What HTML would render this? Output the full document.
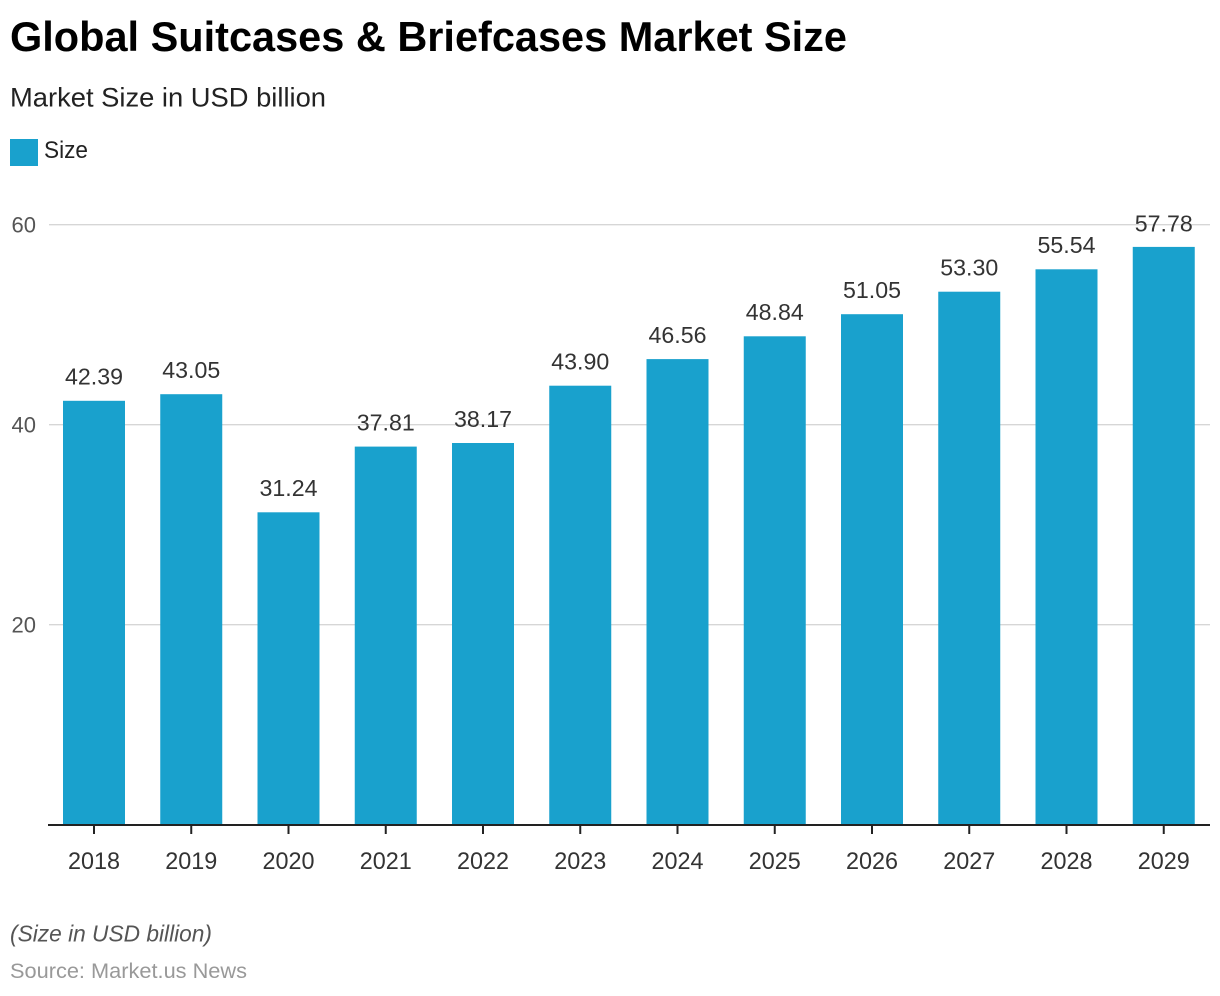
<!DOCTYPE html>
<html>
<head>
<meta charset="utf-8">
<style>
  html,body{margin:0;padding:0;background:#fff;}
  svg{display:block;}
  text{font-family:"Liberation Sans",sans-serif;}
</style>
</head>
<body>
<svg width="1220" height="996" viewBox="0 0 1220 996" xmlns="http://www.w3.org/2000/svg">
  <rect width="1220" height="996" fill="#fff"/>
  <!-- Title -->
  <text x="10" y="51" font-size="42" font-weight="bold" fill="#000" textLength="837" lengthAdjust="spacingAndGlyphs">Global Suitcases &amp; Briefcases Market Size</text>
  <text x="10" y="106.5" font-size="27" fill="#222" textLength="316" lengthAdjust="spacingAndGlyphs">Market Size in USD billion</text>
  <!-- Legend -->
  <rect x="10" y="139" width="28" height="27" fill="#19a1cd"/>
  <text x="44" y="158" font-size="24" fill="#222" textLength="44" lengthAdjust="spacingAndGlyphs">Size</text>

  <!-- Gridlines -->
  <g stroke="#d6d6d6" stroke-width="1.4">
    <line x1="49" y1="224.7" x2="1210" y2="224.7"/>
    <line x1="49" y1="424.7" x2="1210" y2="424.7"/>
    <line x1="49" y1="624.7" x2="1210" y2="624.7"/>
  </g>
  <!-- Y labels -->
  <g font-size="22" fill="#555" text-anchor="end">
    <text x="36" y="232.5">60</text>
    <text x="36" y="432.5">40</text>
    <text x="36" y="632.5">20</text>
  </g>

  <!-- Bars -->
  <g fill="#19a1cd">
    <rect x="63" y="400.8" width="62" height="424"/>
    <rect x="160.25" y="394.2" width="62" height="430.5"/>
    <rect x="257.5" y="512.3" width="62" height="312.4"/>
    <rect x="354.75" y="446.6" width="62" height="378.1"/>
    <rect x="452" y="443" width="62" height="381.7"/>
    <rect x="549.25" y="385.7" width="62" height="439"/>
    <rect x="646.5" y="359.1" width="62" height="465.6"/>
    <rect x="743.75" y="336.3" width="62" height="488.4"/>
    <rect x="841" y="314.2" width="62" height="510.5"/>
    <rect x="938.25" y="291.7" width="62" height="533"/>
    <rect x="1035.5" y="269.3" width="62" height="555.4"/>
    <rect x="1132.75" y="246.9" width="62" height="577.8"/>
  </g>

  <!-- Value labels -->
  <g font-size="23" fill="#333" text-anchor="middle">
    <text x="94" y="384.5" textLength="58" lengthAdjust="spacingAndGlyphs">42.39</text>
    <text x="191.25" y="378" textLength="58" lengthAdjust="spacingAndGlyphs">43.05</text>
    <text x="288.5" y="496" textLength="58" lengthAdjust="spacingAndGlyphs">31.24</text>
    <text x="385.75" y="430.5" textLength="58" lengthAdjust="spacingAndGlyphs">37.81</text>
    <text x="483" y="427" textLength="58" lengthAdjust="spacingAndGlyphs">38.17</text>
    <text x="580.25" y="369.5" textLength="58" lengthAdjust="spacingAndGlyphs">43.90</text>
    <text x="677.5" y="343" textLength="58" lengthAdjust="spacingAndGlyphs">46.56</text>
    <text x="774.75" y="320" textLength="58" lengthAdjust="spacingAndGlyphs">48.84</text>
    <text x="872" y="298" textLength="58" lengthAdjust="spacingAndGlyphs">51.05</text>
    <text x="969.25" y="275.5" textLength="58" lengthAdjust="spacingAndGlyphs">53.30</text>
    <text x="1066.5" y="253" textLength="58" lengthAdjust="spacingAndGlyphs">55.54</text>
    <text x="1163.75" y="231.5" textLength="58" lengthAdjust="spacingAndGlyphs">57.78</text>
  </g>

  <!-- Axis -->
  <line x1="48" y1="825" x2="1210" y2="825" stroke="#222" stroke-width="2"/>
  <g stroke="#222" stroke-width="2">
    <line x1="94" y1="825" x2="94" y2="834"/>
    <line x1="191.25" y1="825" x2="191.25" y2="834"/>
    <line x1="288.5" y1="825" x2="288.5" y2="834"/>
    <line x1="385.75" y1="825" x2="385.75" y2="834"/>
    <line x1="483" y1="825" x2="483" y2="834"/>
    <line x1="580.25" y1="825" x2="580.25" y2="834"/>
    <line x1="677.5" y1="825" x2="677.5" y2="834"/>
    <line x1="774.75" y1="825" x2="774.75" y2="834"/>
    <line x1="872" y1="825" x2="872" y2="834"/>
    <line x1="969.25" y1="825" x2="969.25" y2="834"/>
    <line x1="1066.5" y1="825" x2="1066.5" y2="834"/>
    <line x1="1163.75" y1="825" x2="1163.75" y2="834"/>
  </g>
  <!-- Year labels -->
  <g font-size="24" fill="#333" text-anchor="middle">
    <text x="94" y="869" textLength="52" lengthAdjust="spacingAndGlyphs">2018</text>
    <text x="191.25" y="869" textLength="52" lengthAdjust="spacingAndGlyphs">2019</text>
    <text x="288.5" y="869" textLength="52" lengthAdjust="spacingAndGlyphs">2020</text>
    <text x="385.75" y="869" textLength="52" lengthAdjust="spacingAndGlyphs">2021</text>
    <text x="483" y="869" textLength="52" lengthAdjust="spacingAndGlyphs">2022</text>
    <text x="580.25" y="869" textLength="52" lengthAdjust="spacingAndGlyphs">2023</text>
    <text x="677.5" y="869" textLength="52" lengthAdjust="spacingAndGlyphs">2024</text>
    <text x="774.75" y="869" textLength="52" lengthAdjust="spacingAndGlyphs">2025</text>
    <text x="872" y="869" textLength="52" lengthAdjust="spacingAndGlyphs">2026</text>
    <text x="969.25" y="869" textLength="52" lengthAdjust="spacingAndGlyphs">2027</text>
    <text x="1066.5" y="869" textLength="52" lengthAdjust="spacingAndGlyphs">2028</text>
    <text x="1163.75" y="869" textLength="52" lengthAdjust="spacingAndGlyphs">2029</text>
  </g>

  <!-- Footer -->
  <text x="10" y="941.5" font-size="23" font-style="italic" fill="#555" textLength="202" lengthAdjust="spacingAndGlyphs">(Size in USD billion)</text>
  <text x="10" y="978" font-size="21" fill="#999" textLength="237" lengthAdjust="spacingAndGlyphs">Source: Market.us News</text>
</svg>
</body>
</html>
